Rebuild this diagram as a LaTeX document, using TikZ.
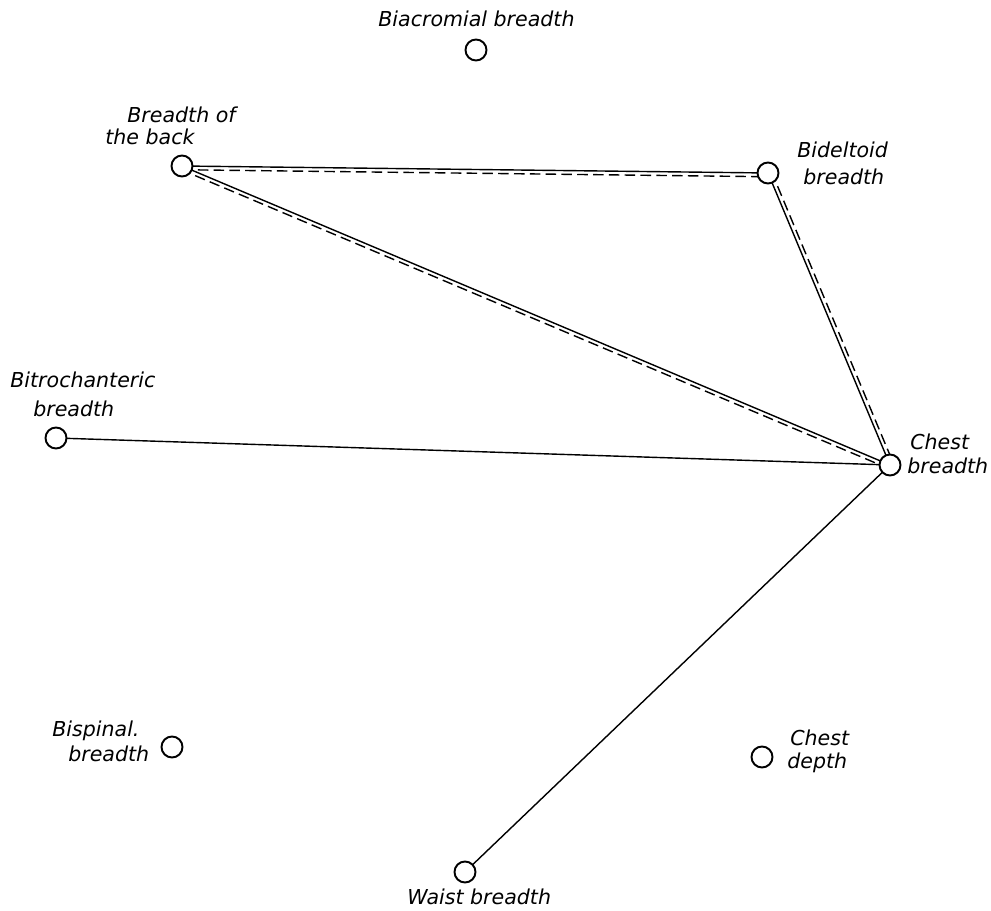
\documentclass[tikz,border=0pt]{standalone}
\usepackage{fontspec}
\setmainfont{DejaVu Sans}
\usetikzlibrary{calc,backgrounds}
\begin{document}
\begin{tikzpicture}[x=0.02cm,y=-0.02cm,
  pt/.style={circle,draw,line width=1.1pt,fill=white,minimum size=0.42cm,inner sep=0pt},
  lab/.style={anchor=base west,inner sep=0pt,font=\fontsize{11.7}{14}\selectfont\itshape},
  conn/.style={line width=0.8pt},
  dsh/.style={line width=0.8pt,dash pattern=on 6pt off 3pt}]
\useasboundingbox (0,0) rectangle (991,911);
% points
\node[pt] (biac) at (476,50) {};
\node[pt] (back) at (182,166) {};
\node[pt] (delt) at (768,173) {};
\node[pt] (troc) at (56,438) {};
\node[pt] (chest) at (890,465) {};
\node[pt] (spin) at (172,747) {};
\node[pt] (cdep) at (762,757) {};
\node[pt] (waist) at (465,872) {};
% labels
\node[lab] (l1) at (378,27) {Biacromial breadth};
\node[lab] (l2a) at (127,123) {Breadth of};
\node[lab] (l2b) at (105,145) {the back};
\node[lab] (l3a) at (797,158) {Bideltoid};
\node[lab] (l3b) at (803,185) {breadth};
\node[lab] (l4a) at (10,388) {Bitrochanteric};
\node[lab] (l4b) at (33,417) {breadth};
\node[lab] (l5a) at (910,450) {Chest};
\node[lab] (l5b) at (907,474) {breadth};
\node[lab] (l6a) at (52,737) {Bispinal.};
\node[lab] (l6b) at (68,762) {breadth};
\node[lab] (l7a) at (790,746) {Chest};
\node[lab] (l7b) at (787,769) {depth};
\node[lab] (l8) at (407,905) {Waist breadth};
% connectors
\begin{scope}[on background layer]
\draw[conn] (back.center) -- (delt.center);
\draw[dsh] ($(back.center)!0.075cm!-90:(delt.center)$) -- ($(delt.center)!0.075cm!90:(back.center)$);
\draw[conn] (back.center) -- (chest.center);
\draw[dsh] ($(back.center)!0.075cm!-90:(chest.center)$) -- ($(chest.center)!0.075cm!90:(back.center)$);
\draw[conn] (delt.center) -- (chest.center);
\draw[dsh] ($(delt.center)!0.075cm!90:(chest.center)$) -- ($(chest.center)!0.075cm!-90:(delt.center)$);
\draw[conn] (troc.center) -- (chest.center);
\draw[conn] (chest.center) -- (waist.center);
\end{scope}
\end{tikzpicture}
\end{document}
